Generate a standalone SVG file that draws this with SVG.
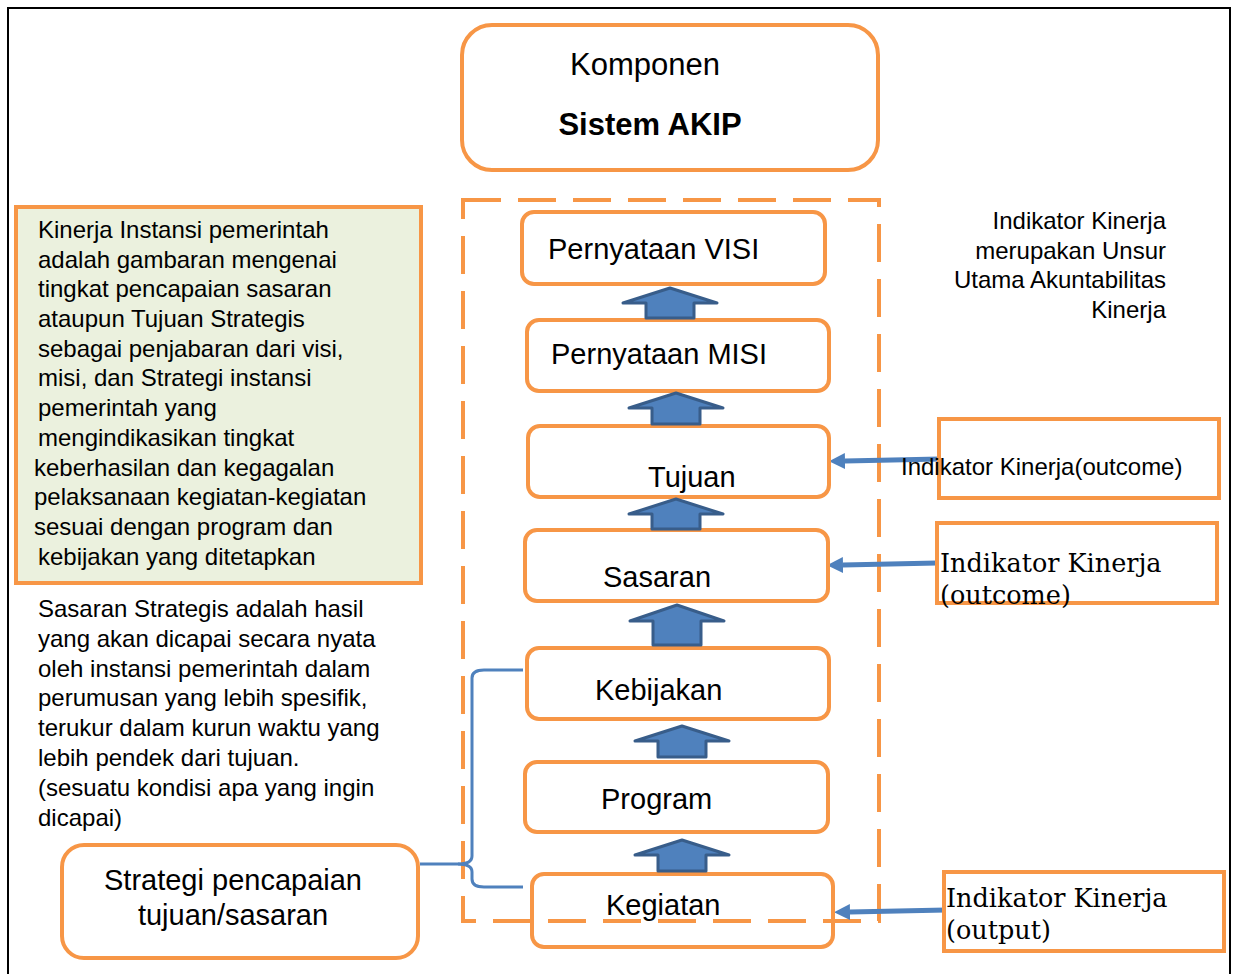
<svg xmlns="http://www.w3.org/2000/svg" width="1236" height="974" viewBox="0 0 1236 974">
<style>
.box{fill:none;stroke:#F79646;stroke-width:4}
.t{font-family:"Liberation Sans",Arial,sans-serif;fill:#000}
.s{font-family:"DejaVu Serif","Liberation Serif",serif;fill:#000;font-size:25.5px}
.up{fill:#4F81BD;stroke:#385D8A;stroke-width:3;stroke-linejoin:round}
.con{stroke:#4F81BD;stroke-width:5;fill:none}
.brace{stroke:#4F81BD;stroke-width:3;fill:none}
</style>
<defs>
<marker id="ah" markerUnits="userSpaceOnUse" markerWidth="18" markerHeight="18" refX="0" refY="8" orient="auto">
<path d="M0,0 L16,8 L0,16 z" fill="#4F81BD"/>
</marker>
</defs>
<rect width="1236" height="974" fill="#fff"/>
<path d="M8,974 V8 H1230 V974" fill="none" stroke="#000" stroke-width="2"/>

<g id="dashed-frame">
<rect x="463" y="200" width="416" height="721" fill="none" stroke="#F79646" stroke-width="4" stroke-dasharray="38 17"/>
</g>

<g id="connectors">
<line class="con" x1="940" y1="459" x2="845" y2="461" marker-end="url(#ah)"/>
<line class="con" x1="937" y1="563" x2="843" y2="565" marker-end="url(#ah)"/>
<line class="con" x1="946" y1="910" x2="850" y2="912" marker-end="url(#ah)"/>
<path class="brace" d="M420,864 H458 Q472,864 472,856 V678 Q472,670 484,670 H523"/>
<path class="brace" d="M458,864 Q472,864 472,872 V879 Q472,887 484,887 H523"/>
</g>

<g id="komponen">
<rect class="box" x="462" y="25" width="416" height="145" rx="30"/>
<text class="t" x="645" y="75" font-size="31" text-anchor="middle">Komponen</text>
<text class="t" x="650" y="135" font-size="31" font-weight="bold" text-anchor="middle">Sistem AKIP</text>
</g>

<g id="visi">
<rect class="box" x="522" y="212" width="303" height="72" rx="12"/>
<text class="t" x="548" y="259" font-size="29">Pernyataan VISI</text>
</g>
<g id="misi">
<rect class="box" x="527" y="320" width="302" height="71" rx="12"/>
<text class="t" x="551" y="364" font-size="29">Pernyataan MISI</text>
</g>
<g id="tujuan">
<rect class="box" x="528" y="426" width="301" height="71" rx="12"/>
<text class="t" x="648" y="487" font-size="29">Tujuan</text>
</g>
<g id="sasaran">
<rect class="box" x="525" y="530" width="303" height="71" rx="12"/>
<text class="t" x="603" y="587" font-size="29">Sasaran</text>
</g>
<g id="kebijakan">
<rect class="box" x="527" y="648" width="302" height="71" rx="12"/>
<text class="t" x="595" y="700" font-size="29">Kebijakan</text>
</g>
<g id="program">
<rect class="box" x="525" y="762" width="303" height="70" rx="12"/>
<text class="t" x="601" y="809" font-size="29">Program</text>
</g>
<g id="kegiatan">
<rect class="box" x="532" y="874" width="301" height="73" rx="12"/>
<text class="t" x="606" y="915" font-size="29">Kegiatan</text>
</g>

<g id="up-arrows">
<polygon class="up" points="646,318 646,303 623,303 670,288 717,303 694,303 694,318"/>
<polygon class="up" points="652,424 652,408 629,408 676,393 723,408 700,408 700,424"/>
<polygon class="up" points="652,529 652,514 629,514 676,499 723,514 700,514 700,529"/>
<polygon class="up" points="653,645 653,621 630,621 677,605 724,621 701,621 701,645"/>
<polygon class="up" points="658,757 658,741 635,741 682,726 729,741 706,741 706,757"/>
<polygon class="up" points="658,871 658,855 635,855 682,840 729,855 706,855 706,871"/>
</g>

<g id="kinerja-def">
<rect x="16" y="207" width="405" height="376" fill="#EBF1DE" stroke="#F79646" stroke-width="4"/>
<text class="t" font-size="24"><tspan x="38" y="238">Kinerja Instansi pemerintah</tspan><tspan x="38" y="268">adalah gambaran mengenai</tspan><tspan x="38" y="297">tingkat pencapaian sasaran</tspan><tspan x="38" y="327">ataupun Tujuan Strategis</tspan><tspan x="38" y="357">sebagai penjabaran dari visi,</tspan><tspan x="38" y="386">misi, dan Strategi instansi</tspan><tspan x="38" y="416">pemerintah yang</tspan><tspan x="38" y="446">mengindikasikan tingkat</tspan><tspan x="34" y="476">keberhasilan dan kegagalan</tspan><tspan x="34" y="505">pelaksanaan kegiatan-kegiatan</tspan><tspan x="34" y="535">sesuai dengan program dan</tspan><tspan x="38" y="565">kebijakan yang ditetapkan</tspan></text>
</g>

<g id="sasaran-def">
<text class="t" font-size="24"><tspan x="38" y="617">Sasaran Strategis adalah hasil</tspan><tspan x="38" y="647">yang akan dicapai secara nyata</tspan><tspan x="38" y="677">oleh instansi pemerintah dalam</tspan><tspan x="38" y="706">perumusan yang lebih spesifik,</tspan><tspan x="38" y="736">terukur dalam kurun waktu yang</tspan><tspan x="38" y="766">lebih pendek dari tujuan.</tspan><tspan x="38" y="796">(sesuatu kondisi apa yang ingin</tspan><tspan x="38" y="826">dicapai)</tspan></text>
</g>

<g id="indikator-note">
<text class="t" font-size="24" text-anchor="end" x="1166" y="229">Indikator Kinerja</text>
<text class="t" font-size="24" text-anchor="end" x="1166" y="259">merupakan Unsur</text>
<text class="t" font-size="24" text-anchor="end" x="1166" y="288">Utama Akuntabilitas</text>
<text class="t" font-size="24" text-anchor="end" x="1166" y="318">Kinerja</text>
</g>

<g id="strategi">
<rect class="box" x="62" y="845" width="356" height="113" rx="22"/>
<text class="t" x="233" y="890" font-size="29" text-anchor="middle">Strategi pencapaian</text>
<text class="t" x="233" y="925" font-size="29" text-anchor="middle">tujuan/sasaran</text>
</g>

<g id="ik-tujuan">
<rect class="box" x="939" y="419" width="280" height="79"/>
<text class="t" x="901" y="475" font-size="24">Indikator Kinerja(outcome)</text>
</g>
<g id="ik-sasaran">
<rect class="box" x="937" y="523" width="280" height="80"/>
<text class="s"><tspan x="940" y="572">Indikator Kinerja</tspan><tspan x="940" y="604">(outcome)</tspan></text>
</g>
<g id="ik-kegiatan">
<rect class="box" x="944" y="872" width="280" height="79"/>
<text class="s"><tspan x="946" y="907">Indikator Kinerja</tspan><tspan x="946" y="939">(output)</tspan></text>
</g>
</svg>
